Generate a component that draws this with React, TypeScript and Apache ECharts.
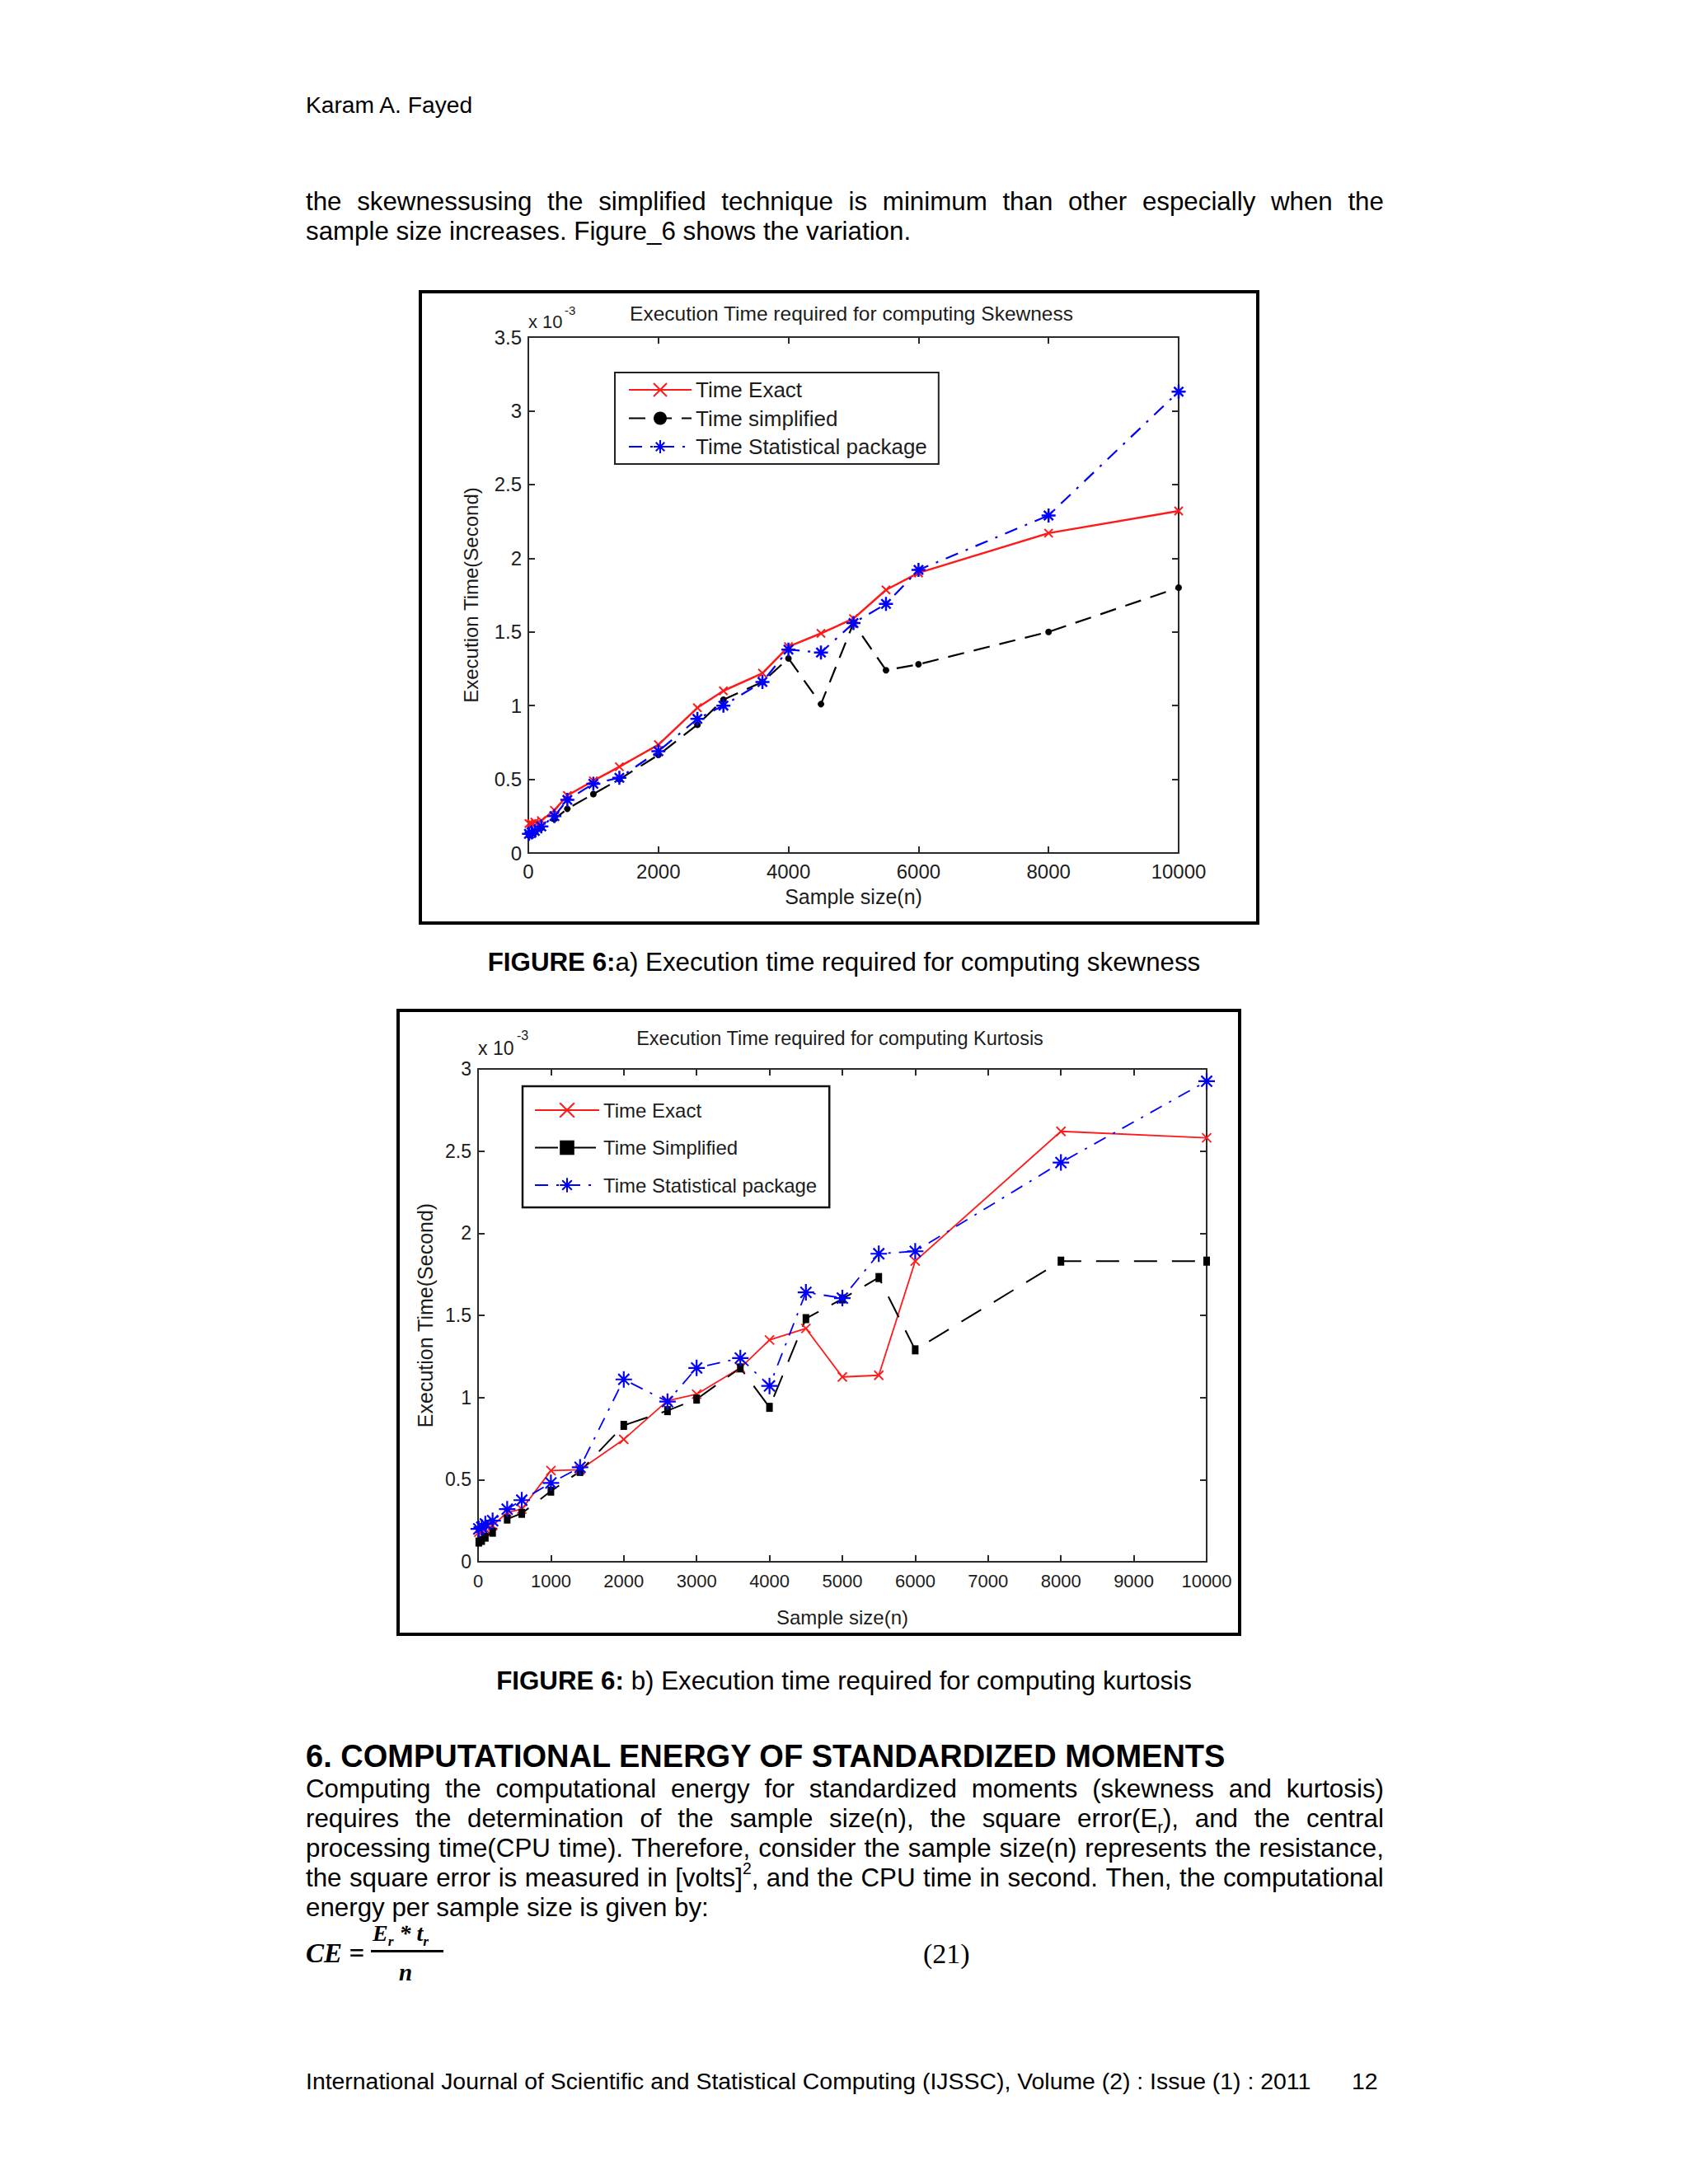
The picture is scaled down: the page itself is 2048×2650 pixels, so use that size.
import React, { useEffect, useRef } from "react";
import * as echarts from "echarts";

// ---------------- DATA (execution time, units of 1e-3 s) ----------------
const sampleSizes = [10, 50, 100, 200, 400, 600, 1000, 1400, 2000, 2600, 3000, 3600, 4000, 4500, 5000, 5500, 6000, 8000, 10000];

// Figure 6 a) Skewness
const skewExact = [0.2, 0.2, 0.21, 0.22, 0.29, 0.39, 0.49, 0.585, 0.735, 0.985, 1.1, 1.22, 1.4, 1.49, 1.59, 1.785, 1.9, 2.17, 2.32];
const skewSimplified = [0.12, 0.13, 0.14, 0.17, 0.23, 0.3, 0.4, 0.5, 0.665, 0.87, 1.04, 1.16, 1.32, 1.01, 1.56, 1.24, 1.28, 1.5, 1.8];
const skewStatistical = [0.13, 0.14, 0.15, 0.18, 0.25, 0.36, 0.47, 0.51, 0.69, 0.91, 1.0, 1.16, 1.38, 1.36, 1.56, 1.69, 1.92, 2.29, 3.13];

// Figure 6 b) Kurtosis
const kurtExact = [0.18, 0.19, 0.2, 0.22, 0.3, 0.32, 0.555, 0.56, 0.745, 0.98, 1.02, 1.18, 1.35, 1.42, 1.125, 1.135, 1.83, 2.62, 2.58];
const kurtSimplified = [0.12, 0.13, 0.15, 0.18, 0.26, 0.295, 0.43, 0.55, 0.83, 0.92, 0.99, 1.18, 0.94, 1.48, 1.6, 1.73, 1.29, 1.83, 1.83];
const kurtStatistical = [0.2, 0.21, 0.23, 0.25, 0.32, 0.375, 0.48, 0.575, 1.11, 0.975, 1.18, 1.24, 1.07, 1.64, 1.605, 1.875, 1.89, 2.43, 2.925];

// axis ranges [min, max, interval]
const skewXRange = [0, 10000, 2000];
const skewYRange = [0, 3.5, 0.5];
const kurtXRange = [0, 10000, 1000];
const kurtYRange = [0, 3, 0.5];

const skewLegendNames = ["Time Exact", "Time simplified", "Time Statistical package"];
const kurtLegendNames = ["Time Exact", "Time Simplified", "Time Statistical package"];

// ---------------- PAGE TEXT ----------------
const headerText = "Karam A. Fayed";
const para1Lines = [
  "the skewnessusing the simplified technique is minimum than other especially when the",
  "sample size increases. Figure_6 shows the variation.",
];
const caption1Bold = "FIGURE 6:";
const caption1Rest = "a) Execution time required for computing skewness";
const caption2Bold = "FIGURE 6:";
const caption2Rest = " b) Execution time required for computing kurtosis";
const headingText = "6. COMPUTATIONAL ENERGY OF STANDARDIZED MOMENTS";
const para2Lines = [
  "Computing the computational energy for standardized moments (skewness and kurtosis)",
  "requires the determination of the sample size(n), the square error(E_{r}), and the central",
  "processing time(CPU time). Therefore, consider the sample size(n) represents the resistance,",
  "the square error is measured in [volts]^{2}, and the CPU time in second. Then, the computational",
  "energy per sample size is given by:",
];
const footerText = "International Journal of Scientific and Statistical Computing (IJSSC), Volume (2) : Issue (1) : 2011";
const pageNumber = "12";

// ---------------- STYLE CONSTANTS ----------------
const PAGE_FONT = "'Liberation Sans', Arial, Helvetica, sans-serif";
const C1_FONT = "'Liberation Sans', Arial, sans-serif";
const C2_FONT = "'Liberation Sans Narrow', 'Arial Narrow', 'Liberation Sans', sans-serif";
const TXT = "#1c1c1c";
const AX = "#2a2a2a";
const RED = "#ff1a1a";
const BLUE = "#0000ff";
const BLACK = "#000000";

const X_SYMBOL = "path://M0,0L10,10M10,0L0,10";
const STAR_SYMBOL = "path://M0,5L10,5M5,0L5,10M1.7,1.7L8.3,8.3M8.3,1.7L1.7,8.3";

const pairs = (ys: number[]) => sampleSizes.map((x, i) => [x, ys[i]]);

function makeAxes(
  dim: "x" | "y",
  range: number[],
  font: string,
  labelSize: number,
  margin: number,
  name: string,
  nameGap: number,
  nameSize: number
) {
  const [min, max, interval] = range;
  const common: any = {
    type: "value",
    gridIndex: 0,
    min,
    max,
    interval,
    axisLine: { show: true, onZero: false, lineStyle: { color: AX, width: 2 } },
    axisTick: { show: true, inside: true, length: 8, lineStyle: { color: AX, width: 2 } },
    splitLine: { show: false },
    minorTick: { show: false },
  };
  const main = {
    ...common,
    position: dim === "x" ? "bottom" : "left",
    axisLabel: {
      show: true,
      margin,
      fontSize: labelSize,
      fontFamily: font,
      color: TXT,
      hideOverlap: false,
      showMinLabel: true,
      showMaxLabel: true,
      formatter: (v: number) => String(v),
    },
    name,
    nameLocation: "middle",
    nameGap,
    nameTextStyle: { fontSize: nameSize, fontFamily: font, color: TXT },
  };
  const opp = { ...common, position: dim === "x" ? "top" : "right", axisLabel: { show: false } };
  return [main, opp];
}

function lineSeries(name: string, ys: number[], color: string, width: number, dash: any, symbol: string, size: any, borderWidth: number) {
  return {
    type: "line",
    name,
    data: pairs(ys),
    xAxisIndex: 0,
    yAxisIndex: 0,
    showSymbol: true,
    showAllSymbol: true,
    symbol,
    symbolSize: size,
    lineStyle: { color, width, type: dash },
    itemStyle: { color, borderColor: color, borderWidth },
    emphasis: { disabled: true },
    clip: false,
  };
}

const option1: any = {
  animation: false,
  backgroundColor: "transparent",
  textStyle: { fontFamily: C1_FONT },
  grid: [{ left: 141, top: 69, width: 789, height: 626, show: false }],
  xAxis: makeAxes("x", skewXRange, C1_FONT, 24, 10, "Sample size(n)", 40, 25),
  yAxis: makeAxes("y", skewYRange, C1_FONT, 24, 8, "Execution Time(Second)", 58, 24),
  legend: {
    show: true,
    orient: "vertical",
    left: 246,
    top: 112,
    padding: [7, 14, 7, 16],
    itemWidth: 76,
    itemHeight: 20,
    itemGap: 6.5,
    backgroundColor: "#ffffff",
    borderColor: "#222",
    borderWidth: 2,
    selectedMode: false,
    textStyle: { fontSize: 26, lineHeight: 28, fontFamily: C1_FONT, color: TXT },
    data: skewLegendNames,
  },
  series: [
    lineSeries(skewLegendNames[0], skewExact, RED, 2.5, "solid", X_SYMBOL, 10, 2),
    lineSeries(skewLegendNames[1], skewSimplified, BLACK, 2.2, [20, 12], "circle", 8, 0),
    lineSeries(skewLegendNames[2], skewStatistical, BLUE, 2.2, [16, 10, 3, 10], STAR_SYMBOL, 17, 2.5),
  ],
  graphic: [
    { type: "rect", silent: true, z: -10, shape: { x: 10, y: 14, width: 1016, height: 766 }, style: { fill: "none", stroke: "#000", lineWidth: 4 } },
    { type: "text", silent: true, x: 533, y: 40, style: { text: "Execution Time required for computing Skewness", fontSize: 24.5, fontFamily: C1_FONT, fill: TXT, align: "center", verticalAlign: "middle" } },
    { type: "text", silent: true, x: 141, y: 50, style: { text: "x 10", fontSize: 22, fontFamily: C1_FONT, fill: TXT, align: "left", verticalAlign: "middle" } },
    { type: "text", silent: true, x: 185, y: 36, style: { text: "-3", fontSize: 15, fontFamily: C1_FONT, fill: TXT, align: "left", verticalAlign: "middle" } },
  ],
};

const option2: any = {
  animation: false,
  backgroundColor: "transparent",
  textStyle: { fontFamily: C2_FONT },
  grid: [{ left: 110, top: 85, width: 884, height: 598, show: false }],
  xAxis: makeAxes("x", kurtXRange, C2_FONT, 22, 12, "Sample size(n)", 55, 24),
  yAxis: makeAxes("y", kurtYRange, C2_FONT, 23, 8, "Execution Time(Second)", 52, 25),
  legend: {
    show: true,
    orient: "vertical",
    left: 164,
    top: 106,
    padding: [14, 15, 12, 14],
    itemWidth: 78,
    itemHeight: 22,
    itemGap: 15.5,
    backgroundColor: "#ffffff",
    borderColor: "#111",
    borderWidth: 2.5,
    selectedMode: false,
    textStyle: { fontSize: 24, lineHeight: 30, fontFamily: C2_FONT, color: TXT },
    data: kurtLegendNames,
  },
  series: [
    lineSeries(kurtLegendNames[0], kurtExact, RED, 1.8, "solid", X_SYMBOL, 11, 1.8),
    lineSeries(kurtLegendNames[1], kurtSimplified, BLACK, 2, [28, 18], "rect", [8, 11], 0),
    lineSeries(kurtLegendNames[2], kurtStatistical, BLUE, 1.8, [16, 10, 3, 10], STAR_SYMBOL, 20, 2.2),
  ],
  graphic: [
    { type: "rect", silent: true, z: -10, shape: { x: 13, y: 14, width: 1021, height: 757 }, style: { fill: "none", stroke: "#000", lineWidth: 4 } },
    { type: "text", silent: true, x: 549, y: 48, style: { text: "Execution Time required for computing Kurtosis", fontSize: 23.5, fontFamily: C2_FONT, fill: TXT, align: "center", verticalAlign: "middle" } },
    { type: "text", silent: true, x: 110, y: 60, style: { text: "x 10", fontSize: 23, fontFamily: C2_FONT, fill: TXT, align: "left", verticalAlign: "middle" } },
    { type: "text", silent: true, x: 157, y: 44, style: { text: "-3", fontSize: 16, fontFamily: C2_FONT, fill: TXT, align: "left", verticalAlign: "middle" } },
  ],
};

// ---------------- COMPONENTS ----------------
function ChartBox({ left, top, width, height, option }: any) {
  const ref = useRef<HTMLDivElement>(null);
  useEffect(() => {
    if (!ref.current) return;
    const chart = echarts.init(ref.current, undefined, { renderer: "svg" });
    chart.setOption(option);
    return () => chart.dispose();
  }, [option]);
  return <div ref={ref} style={{ position: "absolute", left, top, width, height }} />;
}

function rich(str: string) {
  const parts: any[] = [];
  const re = /([_^])\{([^}]*)\}/g;
  let last = 0;
  let m: RegExpExecArray | null;
  let k = 0;
  while ((m = re.exec(str))) {
    if (m.index > last) parts.push(str.slice(last, m.index));
    if (m[1] === "_") {
      parts.push(
        <span key={k++} style={{ fontSize: "0.62em", position: "relative", top: "0.35em", lineHeight: 0 }}>
          {m[2]}
        </span>
      );
    } else {
      parts.push(
        <span key={k++} style={{ fontSize: "0.62em", position: "relative", top: "-0.75em", lineHeight: 0 }}>
          {m[2]}
        </span>
      );
    }
    last = m.index + m[0].length;
  }
  if (last < str.length) parts.push(str.slice(last));
  return parts;
}

const BODY = 31.3;
const LEFT = 371;
const TEXT_W = 1308;

function TextLine({ cy, left = LEFT, size = BODY, bold = false, children, style }: any) {
  const lh = Math.round(size * 1.2);
  return (
    <div
      style={{
        position: "absolute",
        left,
        top: cy - lh / 2,
        height: lh,
        lineHeight: `${lh}px`,
        fontSize: size,
        fontWeight: bold ? 700 : 400,
        whiteSpace: "pre",
        ...style,
      }}
    >
      {children}
    </div>
  );
}

function JustLine({ cy, text, size = BODY }: any) {
  const lh = Math.round(size * 1.2);
  const words = text.split(" ");
  return (
    <div
      style={{
        position: "absolute",
        left: LEFT,
        width: TEXT_W,
        top: cy - lh / 2,
        height: lh,
        lineHeight: `${lh}px`,
        fontSize: size,
        display: "flex",
        justifyContent: "space-between",
        whiteSpace: "pre",
      }}
    >
      {words.map((w: string, i: number) => (
        <span key={i}>{rich(w)}</span>
      ))}
    </div>
  );
}

const SERIF = "'Liberation Serif', 'DejaVu Serif', serif";

export default function App() {
  return (
    <div
      style={{
        position: "absolute",
        left: 0,
        top: 0,
        width: 2048,
        height: 2650,
        background: "#ffffff",
        overflow: "hidden",
        fontFamily: PAGE_FONT,
        color: "#000",
      }}
    >
      <TextLine cy={127} size={28.2}>{headerText}</TextLine>

      <JustLine cy={245} text={para1Lines[0]} />
      <TextLine cy={281}>{para1Lines[1]}</TextLine>

      <ChartBox left={500} top={340} width={1040} height={800} option={option1} />

      <TextLine cy={1168} left={0} style={{ width: 2048, textAlign: "center" }}>
        <b>{caption1Bold}</b>
        {caption1Rest}
      </TextLine>

      <ChartBox left={470} top={1212} width={1050} height={790} option={option2} />

      <TextLine cy={2040} left={0} style={{ width: 2048, textAlign: "center" }}>
        <b>{caption2Bold}</b>
        {caption2Rest}
      </TextLine>

      <TextLine cy={2131} size={38} bold>{headingText}</TextLine>

      <JustLine cy={2171} text={para2Lines[0]} />
      <JustLine cy={2207} text={para2Lines[1]} />
      <JustLine cy={2243} text={para2Lines[2]} />
      <JustLine cy={2279} text={para2Lines[3]} />
      <TextLine cy={2315}>{para2Lines[4]}</TextLine>

      {/* formula (21) */}
      <TextLine cy={2370} left={371} size={33} style={{ fontFamily: SERIF, fontStyle: "italic", fontWeight: 700 }}>
        CE =
      </TextLine>
      <TextLine cy={2346} left={452} size={28} style={{ fontFamily: SERIF, fontStyle: "italic", fontWeight: 700 }}>
        {rich("E_{r} * t_{r}")}
      </TextLine>
      <div style={{ position: "absolute", left: 450, top: 2366, width: 88, height: 2.5, background: "#000" }} />
      <TextLine cy={2393} left={484} size={29} style={{ fontFamily: SERIF, fontStyle: "italic", fontWeight: 700 }}>
        n
      </TextLine>
      <TextLine cy={2370} left={1120} size={34} style={{ fontFamily: SERIF }}>
        (21)
      </TextLine>

      <TextLine cy={2525} size={28.4}>{footerText}</TextLine>
      <TextLine cy={2525} left={1640} size={28.4}>{pageNumber}</TextLine>
    </div>
  );
}
